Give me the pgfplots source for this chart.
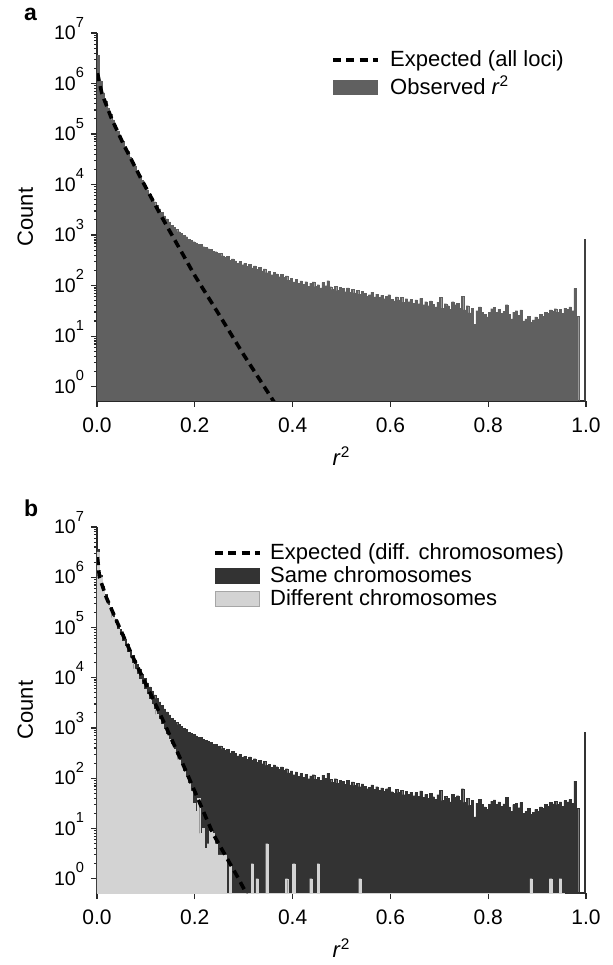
\documentclass[border=0pt]{standalone}
\usepackage{fontspec}
\setmainfont{Liberation Sans}
\usepackage{pgfplots}
\usepackage{pgfplotstable}
\pgfplotsset{compat=1.18}

\definecolor{obsgray}{RGB}{96,96,96}
\definecolor{samegray}{RGB}{51,51,51}
\definecolor{diffgray}{RGB}{211,211,211}
\definecolor{axgray}{RGB}{40,40,40}

\tikzset{dashexp/.style={black, line width=1.8pt, dash pattern=on 4pt off 2.6pt}}

\newcommand\ylab[1]{10\smash{\raisebox{6.3pt}{\fontsize{7.3}{8}\selectfont #1}}}
\newcommand\lstrut{\rule[-2.8pt]{0pt}{10.5pt}}

% observed r^2 counts, bins of 0.005 (last row closes the last bin)
\pgfplotstableread{
x y
0.000 3630000
0.005 1122000
0.010 661000
0.015 457000
0.020 331000
0.025 251000
0.030 191000
0.035 148000
0.040 115000
0.045 91200
0.050 72400
0.055 57500
0.060 45700
0.065 35500
0.070 28200
0.075 22900
0.080 18600
0.085 14800
0.090 12000
0.095 9770
0.100 7940
0.105 6610
0.110 5500
0.115 4570
0.120 3890
0.125 3310
0.130 2820
0.135 2400
0.140 2090
0.145 1820
0.150 1580
0.155 1410
0.160 1290
0.165 1170
0.170 1070
0.175 977
0.180 930
0.185 832
0.190 790
0.195 741
0.200 700
0.205 661
0.210 650
0.215 589
0.220 575
0.225 537
0.230 520
0.235 479
0.240 470
0.245 437
0.250 440
0.255 389
0.260 360
0.265 380
0.270 320
0.275 340
0.280 310
0.285 280
0.290 300
0.295 260
0.300 275
0.305 240
0.310 265
0.315 225
0.320 245
0.325 210
0.330 230
0.335 195
0.340 215
0.345 180
0.350 190
0.355 165
0.360 185
0.365 170
0.370 150
0.375 168
0.380 145
0.385 155
0.390 128
0.395 140
0.400 118
0.405 134
0.410 110
0.415 124
0.420 105
0.425 120
0.430 98
0.435 112
0.440 118
0.445 96
0.450 104
0.455 90
0.460 115
0.465 100
0.470 125
0.475 95
0.480 84
0.485 98
0.490 80
0.495 92
0.500 88
0.505 76
0.510 90
0.515 74
0.520 85
0.525 72
0.530 80
0.535 68
0.540 77
0.545 70
0.550 62
0.555 66
0.560 74
0.565 60
0.570 68
0.575 58
0.580 64
0.585 55
0.590 62
0.595 66
0.600 54
0.605 50
0.610 60
0.615 52
0.620 58
0.625 47
0.630 55
0.635 48
0.640 53
0.645 45
0.650 52
0.655 44
0.660 56
0.665 42
0.670 48
0.675 40
0.680 50
0.685 43
0.690 38
0.695 47
0.700 58
0.705 36
0.710 44
0.715 40
0.720 34
0.725 48
0.730 42
0.735 45
0.740 36
0.745 62
0.750 33
0.755 40
0.760 29
0.765 36
0.770 17
0.775 32
0.780 38
0.785 30
0.790 27
0.795 24
0.800 30
0.805 35
0.810 37
0.815 30
0.820 34
0.825 28
0.830 31
0.835 42
0.840 27
0.845 22
0.850 30
0.855 32
0.860 26
0.865 33
0.870 20
0.875 22
0.880 25
0.885 19
0.890 21
0.895 24
0.900 22
0.905 27
0.910 25
0.915 30
0.920 28
0.925 33
0.930 31
0.935 35
0.940 30
0.945 34
0.950 28
0.955 36
0.960 34
0.965 38
0.970 32
0.975 88
0.980 25
0.985 25
}\histobs

% different chromosomes (0.01 = empty bin, below the axis)
\pgfplotstableread{
x y
0.000 3200000
0.005 1000000
0.010 562000
0.015 398000
0.020 282000
0.025 209000
0.030 158000
0.035 120000
0.040 91200
0.045 70800
0.050 53700
0.055 41700
0.060 32400
0.065 25100
0.070 19500
0.075 15100
0.080 12000
0.085 9330
0.090 7410
0.095 5890
0.100 4680
0.105 3720
0.110 2950
0.115 2340
0.120 1860
0.125 1480
0.130 1170
0.135 933
0.140 741
0.145 589
0.150 468
0.155 372
0.160 295
0.165 234
0.170 182
0.175 138
0.180 105
0.185 79
0.190 56
0.195 32
0.200 22
0.205 40
0.210 8
0.215 10
0.220 4
0.225 5
0.230 9
0.235 8
0.240 5
0.245 3
0.250 3
0.255 3
0.260 3
0.265 0.01
0.270 2
0.275 0.01
0.315 2
0.320 0.01
0.325 1
0.330 0.01
0.345 5
0.350 0.01
0.385 1
0.390 0.01
0.400 2
0.405 0.01
0.435 1
0.440 0.01
0.450 2
0.455 0.01
0.535 1
0.540 0.01
0.885 1
0.890 0.01
0.925 1
0.930 0.01
0.945 1
0.950 0.01
0.955 0.01
}\histdiff

\begin{document}
\begin{tikzpicture}
\path[use as bounding box] (0,0) rectangle (306.5pt,482.5pt);

% panel a
\begin{axis}[
    scale only axis, width=244.5pt, height=184pt,
    at={(48.5pt,282pt)}, anchor=south west,
    ymode=log, log origin y=infty,
    xmin=0, xmax=1, ymin=0.52, ymax=1e7,
    axis x line*=bottom, axis y line*=left,
    axis line style={axgray, line width=0.6pt},
    tick style={axgray, line width=0.6pt},
    tick align=outside,
    major tick length=3pt, minor tick length=1.6pt,
    xtick={0,0.2,0.4,0.6,0.8,1},
    xticklabels={0.0,0.2,0.4,0.6,0.8,1.0},
    ytick={1,10,100,1000,10000,100000,1000000,10000000},
    yticklabels={\ylab{0},\ylab{1},\ylab{2},\ylab{3},\ylab{4},\ylab{5},\ylab{6},\ylab{7}},
    x tick label style={font=\fontsize{10.5}{12}\selectfont, yshift=-2pt},
    y tick label style={font=\fontsize{9.8}{11}\selectfont},
    xlabel={\textit{r}\textsuperscript{2}},
    ylabel={Count},
    label style={font=\fontsize{11}{13}\selectfont},
    xlabel style={at={(axis description cs:0.5,-0.174)}, anchor=base},
    ylabel style={at={(axis description cs:-0.131,0.5)}, anchor=base},
    legend cell align=left,
    legend style={at={(0.4785,0.959)}, anchor=north west, draw=none, fill=none,
      inner sep=0pt, font=\fontsize{11}{13}\selectfont, column sep=4pt, row sep=1.4pt,
      nodes={inner sep=1pt}},
  ]
  \addplot[ybar interval, fill=obsgray, draw=obsgray, line width=0.1pt, forget plot]
    table[x=x, y=y] {\histobs};
  \addplot[ybar interval, fill=black!75, draw=none, forget plot]
    coordinates {(0.995,850) (0.999,850)};
  \addplot[dashexp, forget plot] coordinates {
    (0.001,1600000) (0.01,631000) (0.03,200000) (0.055,60300) (0.09,13200)
    (0.13,2510) (0.2,158) (0.25,26.3) (0.3,4.27) (0.362,0.5)};
  \addlegendimage{legend image code/.code={\draw[dashexp] (0pt,0pt) -- (22.6pt,0pt);}}
  \addlegendentry{\lstrut Expected (all loci)}
  \addlegendimage{legend image code/.code={\fill[obsgray] (0pt,-3.5pt) rectangle (22pt,3.5pt);}}
  \addlegendentry{\lstrut Observed \textit{r}\textsuperscript{2}}
\end{axis}

% panel b
\begin{axis}[
    scale only axis, width=244.5pt, height=183pt,
    at={(48.5pt,36pt)}, anchor=south west,
    ymode=log, log origin y=infty,
    xmin=0, xmax=1, ymin=0.52, ymax=1e7,
    axis x line*=bottom, axis y line*=left,
    axis line style={axgray, line width=0.6pt},
    tick style={axgray, line width=0.6pt},
    tick align=outside,
    major tick length=3pt, minor tick length=1.6pt,
    xtick={0,0.2,0.4,0.6,0.8,1},
    xticklabels={0.0,0.2,0.4,0.6,0.8,1.0},
    ytick={1,10,100,1000,10000,100000,1000000,10000000},
    yticklabels={\ylab{0},\ylab{1},\ylab{2},\ylab{3},\ylab{4},\ylab{5},\ylab{6},\ylab{7}},
    x tick label style={font=\fontsize{10.5}{12}\selectfont, yshift=-2pt},
    y tick label style={font=\fontsize{9.8}{11}\selectfont},
    xlabel={\textit{r}\textsuperscript{2}},
    ylabel={Count},
    label style={font=\fontsize{11}{13}\selectfont},
    xlabel style={at={(axis description cs:0.5,-0.175)}, anchor=base},
    ylabel style={at={(axis description cs:-0.131,0.5)}, anchor=base},
    legend cell align=left,
    legend style={at={(0.2372,0.962)}, anchor=north west, draw=none, fill=none,
      inner sep=0pt, font=\fontsize{11}{13}\selectfont, column sep=3pt, row sep=0.2pt,
      nodes={inner sep=1pt}},
  ]
  \addplot[ybar interval, fill=samegray, draw=samegray, line width=0.1pt, forget plot]
    table[x=x, y=y] {\histobs};
  \addplot[ybar interval, fill=samegray, draw=none, forget plot]
    coordinates {(0.995,850) (0.999,850)};
  \addplot[ybar interval, fill=diffgray, draw=diffgray, line width=0.1pt, forget plot]
    table[x=x, y=y] {\histdiff};
  \addplot[dashexp, forget plot] coordinates {
    (0.001,2510000) (0.005,1000000) (0.019,398000) (0.046,100000) (0.074,25100)
    (0.128,2000) (0.183,132) (0.237,7.94) (0.285,1.2) (0.306,0.5)};
  \addlegendimage{legend image code/.code={\draw[dashexp] (0pt,0pt) -- (22.6pt,0pt);}}
  \addlegendentry{\lstrut Expected (diff. chromosomes)}
  \addlegendimage{legend image code/.code={\fill[samegray] (0pt,-3.75pt) rectangle (22pt,3.75pt);}}
  \addlegendentry{\lstrut Same chromosomes}
  \addlegendimage{legend image code/.code={\draw[fill=diffgray, draw=black!35, line width=0.5pt] (0pt,-3.75pt) rectangle (22pt,3.75pt);}}
  \addlegendentry{\lstrut Different chromosomes}
\end{axis}

\node[anchor=base west, font=\fontsize{11.5}{13}\selectfont\bfseries] at (8.5pt,472pt) {a};
\node[anchor=base west, font=\fontsize{11.5}{13}\selectfont\bfseries] at (8.5pt,224pt) {b};
\end{tikzpicture}
\end{document}
